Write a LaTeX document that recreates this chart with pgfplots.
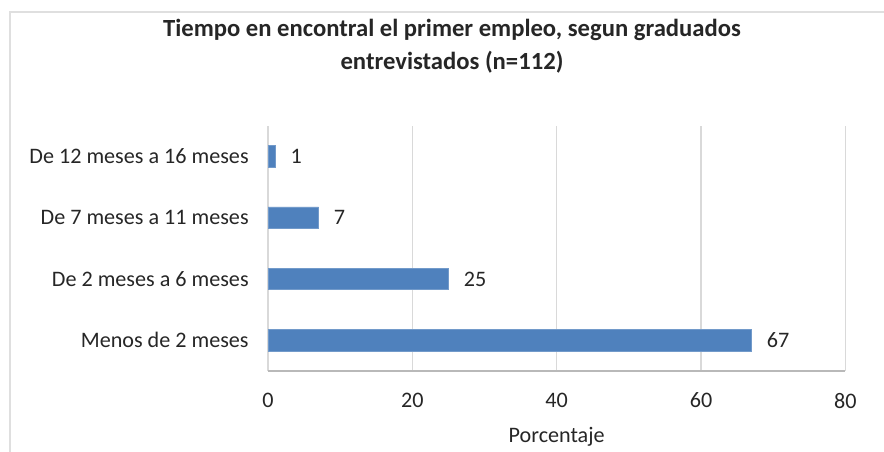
\documentclass[border=0pt]{standalone}
\usepackage{pgfplots}
\pgfplotsset{compat=1.18}
\usepackage{fontspec}
\setmainfont{Carlito}
\definecolor{barblue}{HTML}{4F81BD}
\definecolor{txt}{HTML}{262626}
\begin{document}
\begin{tikzpicture}[x=0.75pt,y=0.75pt]
\useasboundingbox (0,0) rectangle (884,452);
\draw[gray!25, line width=1.5pt] (10,-10) |- (900,440);
\node[font=\fontsize{18.5}{24.5}\selectfont\bfseries, text=txt, align=center] at (452,405.5) {Tiempo en encontral el primer empleo, segun graduados\\ entrevistados (n=112)};
\begin{axis}[
  at={(201pt,60.75pt)}, anchor=south west,
  scale only axis,
  width=433pt, height=184pt,
  xbar, bar width=16.2pt,
  xmin=0, xmax=80, ymin=-0.5, ymax=3.5,
  xtick={0,20,40,60,80},
  ytick={0,1,2,3},
  yticklabels={Menos de 2 meses,De 2 meses a 6 meses,De 7 meses a 11 meses,De 12 meses a 16 meses},
  xmajorgrids, major grid style={gray!30, line width=0.9pt},
  major tick length=0pt,
  x axis line style={-, draw=gray!55, line width=0.9pt},
  y axis line style={draw=none},
  axis x line*=bottom, axis y line*=left,
  ticklabel style={font=\fontsize{16.6}{20}\selectfont, text=txt},
  /pgf/number format/assume math mode=true,
  xticklabel style={yshift=-13pt},
  yticklabel style={xshift=-11pt},
  xlabel={Porcentaje},
  xlabel style={font=\fontsize{16.6}{20}\selectfont, text=txt, yshift=-7pt},
  nodes near coords,
  nodes near coords style={font=\fontsize{16.6}{20}\selectfont, text=txt, anchor=west, xshift=8pt},
  point meta=x,
]
\addplot[fill=barblue, draw=barblue!80!white, line width=0.5pt] coordinates {(67,0) (25,1) (7,2) (1,3)};
\end{axis}
\end{tikzpicture}
\end{document}
